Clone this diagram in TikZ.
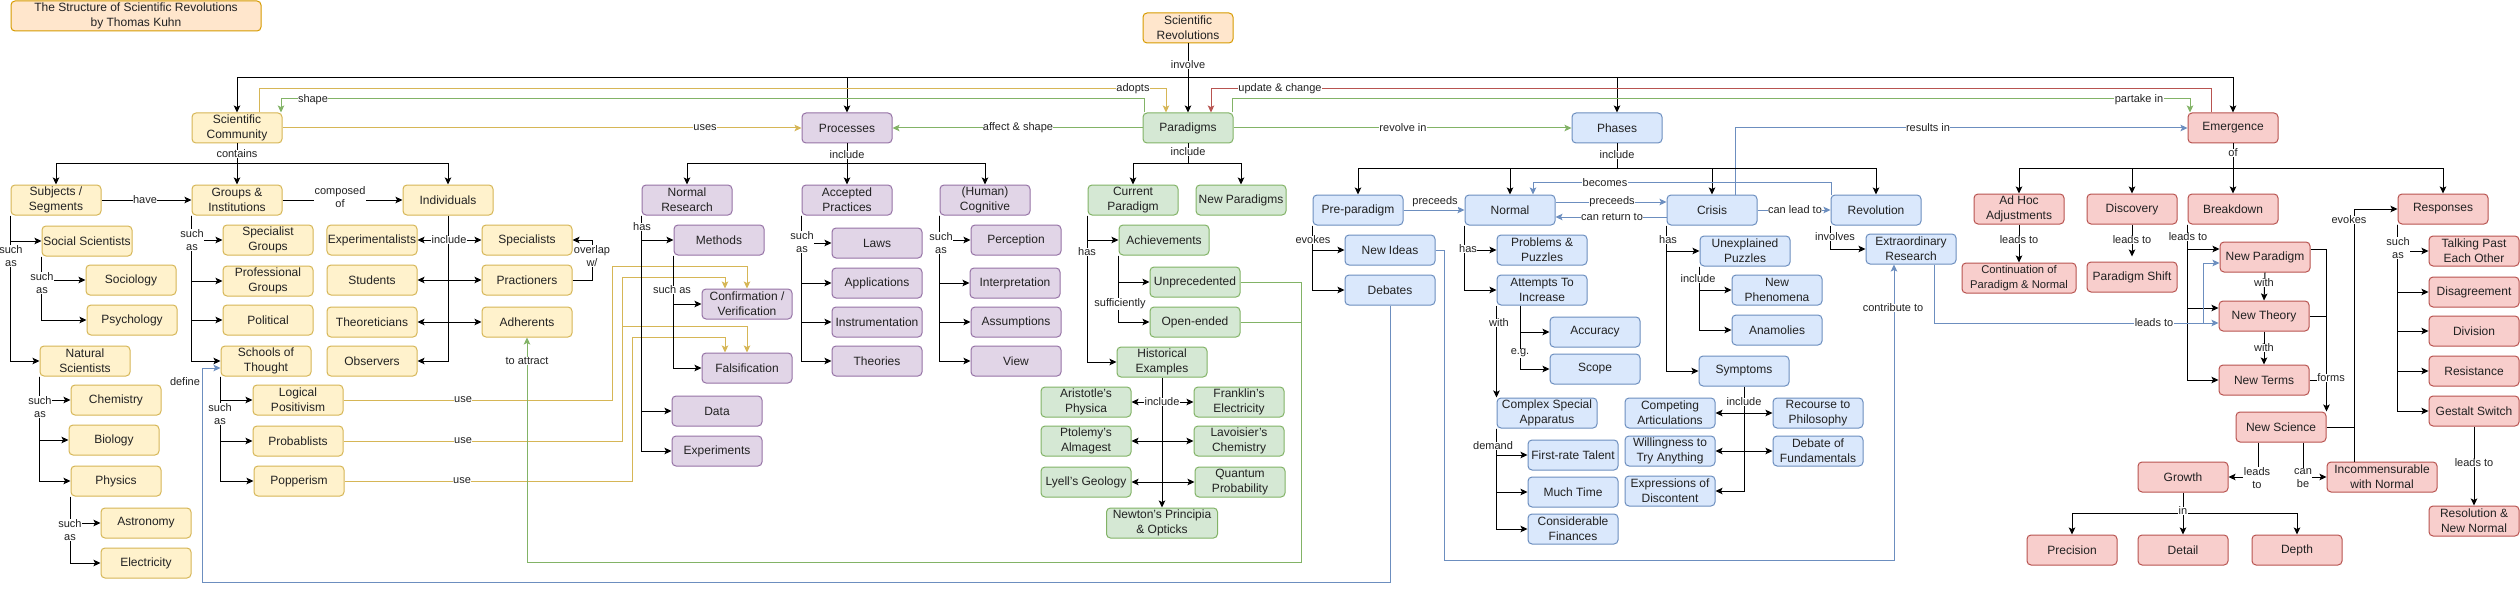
\documentclass[tikz,border=0pt]{standalone}
\usepackage{fontspec}
\setmainfont{Liberation Sans}
\usetikzlibrary{arrows.meta}
\definecolor{oF}{HTML}{FFE6CC}\definecolor{oD}{HTML}{D79B00}
\definecolor{yF}{HTML}{FFF2CC}\definecolor{yD}{HTML}{D6B656}
\definecolor{pF}{HTML}{E1D5E7}\definecolor{pD}{HTML}{9673A6}
\definecolor{gF}{HTML}{D5E8D4}\definecolor{gD}{HTML}{82B366}
\definecolor{bF}{HTML}{DAE8FC}\definecolor{bD}{HTML}{6C8EBF}
\definecolor{rF}{HTML}{F8CECC}\definecolor{rD}{HTML}{B85450}
\definecolor{txt}{HTML}{222222}
\begin{document}
\begin{tikzpicture}[x=1pt,y=-1pt,
 box/.style={draw, rounded corners=4pt, line width=1pt, minimum width=90pt, minimum height=30pt, inner sep=1pt, align=center, font=\fontsize{12}{15}\selectfont, text=txt},
 ob/.style={box, fill=oF, draw=oD},
 yb/.style={box, fill=yF, draw=yD},
 pb/.style={box, fill=pF, draw=pD},
 gb/.style={box, fill=gF, draw=gD},
 bb/.style={box, fill=bF, draw=bD},
 rb/.style={box, fill=rF, draw=rD},
 lbl/.style={fill=white, inner sep=0.4pt, align=center, font=\fontsize{11}{13.5}\selectfont, text=txt},
 ln/.style={line width=1pt},
 ed/.style={ln, -{Stealth[length=7pt,width=6.5pt,inset=1.5pt]}},
 dbl/.style={ln, {Stealth[length=7pt,width=6.5pt,inset=1.5pt]}-{Stealth[length=7pt,width=6.5pt,inset=1.5pt]}},
 yE/.style={ed, draw=yD}, gE/.style={ed, draw=gD}, bE/.style={ed, draw=bD}, rE/.style={ed, draw=rD},
 yL/.style={ln, draw=yD}, gL/.style={ln, draw=gD}, bL/.style={ln, draw=bD}
]
\useasboundingbox (0,0) rectangle (2520,591);
\fill[white] (0,0) rectangle (2520,591);

% ---------------- nodes ----------------
\node[ob, minimum width=250pt] (title) at (136,16) {The Structure of Scientific Revolutions\\by Thomas Kuhn};
\node[ob] (sr) at (1188,28) {Scientific\\Revolutions};

% yellow
\node[yb] (sc) at (237,128) {Scientific\\Community};
\node[yb] (subj) at (56,200) {Subjects /\\Segments};
\node[yb] (grp) at (237,200) {Groups \&\\Institutions};
\node[yb] (ind) at (448,200) {Individuals};
\node[yb] (soc) at (87,241) {Social Scientists};
\node[yb] (sgrp) at (268,240) {Specialist\\Groups};
\node[yb] (exp) at (372,240) {Experimentalists};
\node[yb] (spec) at (527,240) {Specialists};
\node[yb] (socio) at (131,280) {Sociology};
\node[yb] (pgrp) at (268,281) {Professional\\Groups};
\node[yb] (stud) at (372,280) {Students};
\node[yb] (prac) at (527,280) {Practioners};
\node[yb] (psy) at (132,320) {Psychology};
\node[yb] (pol) at (268,320) {Political};
\node[yb] (theo) at (372,322) {Theoreticians};
\node[yb] (adh) at (527,322) {Adherents};
\node[yb] (nat) at (85,361) {Natural\\Scientists};
\node[yb] (sot) at (266,361) {Schools of\\Thought};
\node[yb] (obs) at (372,361) {Observers};
\node[yb] (chem) at (116,400) {Chemistry};
\node[yb] (lp) at (298,400) {Logical\\Positivism};
\node[yb] (bio) at (114,440) {Biology};
\node[yb] (prob) at (298,441) {Probablists};
\node[yb] (phys) at (116,481) {Physics};
\node[yb] (pop) at (299,481) {Popperism};
\node[yb] (astr) at (146,523) {Astronomy};
\node[yb] (elec) at (146,563) {Electricity};

% purple
\node[pb] (proc) at (847,128) {Processes};
\node[pb] (nr) at (687,200) {Normal\\Research};
\node[pb] (ap) at (847,200) {Accepted\\Practices};
\node[pb] (hc) at (985,200) {(Human)\\Cognitive};
\node[pb] (meth) at (719,240) {Methods};
\node[pb] (laws) at (877,243) {Laws};
\node[pb] (perc) at (1016,240) {Perception};
\node[pb] (appl) at (877,283) {Applications};
\node[pb] (interp) at (1015,283) {Interpretation};
\node[pb] (conf) at (747,304) {Confirmation /\\Verification};
\node[pb] (instr) at (877,322) {Instrumentation};
\node[pb] (assum) at (1016,322) {Assumptions};
\node[pb] (fals) at (747,368) {Falsification};
\node[pb] (theor) at (877,361) {Theories};
\node[pb] (view) at (1016,361) {View};
\node[pb] (data) at (717,411) {Data};
\node[pb] (expt) at (717,451) {Experiments};

% green
\node[gb] (par) at (1188,128) {Paradigms};
\node[gb] (cp) at (1133,200) {Current\\Paradigm};
\node[gb] (np) at (1241,200) {New Paradigms};
\node[gb] (ach) at (1164,240) {Achievements};
\node[gb] (unp) at (1195,282) {Unprecedented};
\node[gb] (open) at (1195,322) {Open-ended};
\node[gb] (hist) at (1162,362) {Historical\\Examples};
\node[gb] (ari) at (1086,402) {Aristotle's\\Physica};
\node[gb] (frank) at (1239,402) {Franklin's\\Electricity};
\node[gb] (ptol) at (1086,441) {Ptolemy's\\Almagest};
\node[gb] (lav) at (1239,441) {Lavoisier's\\Chemistry};
\node[gb] (lyell) at (1086,482) {Lyell's Geology};
\node[gb] (quant) at (1240,482) {Quantum\\Probability};
\node[gb, minimum width=111pt] (newt) at (1162,523) {Newton's Principia\\\& Opticks};

% blue
\node[bb] (ph) at (1617,128) {Phases};
\node[bb] (pre) at (1358,210) {Pre-paradigm};
\node[bb] (nor) at (1510,210) {Normal};
\node[bb] (cri) at (1712,210) {Crisis};
\node[bb] (rev) at (1876,210) {Revolution};
\node[bb] (ni) at (1390,250) {New Ideas};
\node[bb] (pp) at (1542,250) {Problems \&\\Puzzles};
\node[bb] (up) at (1745,251) {Unexplained\\Puzzles};
\node[bb] (er) at (1911,249) {Extraordinary\\Research};
\node[bb] (deb) at (1390,290) {Debates};
\node[bb] (ati) at (1542,290) {Attempts To\\Increase};
\node[bb] (nphen) at (1777,290) {New\\Phenomena};
\node[bb] (acc) at (1595,332) {Accuracy};
\node[bb] (anam) at (1777,330) {Anamolies};
\node[bb] (scope) at (1595,369) {Scope};
\node[bb] (sym) at (1744,371) {Symptoms};
\node[bb, minimum width=100pt] (csa) at (1547,413) {Complex Special\\Apparatus};
\node[bb] (ca) at (1670,413) {Competing\\Articulations};
\node[bb] (rp) at (1818,413) {Recourse to\\Philosophy};
\node[bb] (frt) at (1573,455) {First-rate Talent};
\node[bb] (wta) at (1670,451) {Willingness to\\Try Anything};
\node[bb] (dof) at (1818,451) {Debate of\\Fundamentals};
\node[bb] (mt) at (1573,492) {Much Time};
\node[bb] (eod) at (1670,491) {Expressions of\\Discontent};
\node[bb] (cf) at (1573,529) {Considerable\\Finances};

% red
\node[rb] (em) at (2233,128) {Emergence};
\node[rb] (aha) at (2019,209) {Ad Hoc\\Adjustments};
\node[rb] (disc) at (2132,209) {Discovery};
\node[rb] (bd) at (2233,209) {Breakdown};
\node[rb] (resp) at (2443,209) {Responses};
\node[rb, minimum width=114pt, font=\fontsize{11.2}{15}\selectfont] (cont) at (2019,278) {Continuation of\\Paradigm \& Normal};
\node[rb] (ps) at (2132,277) {Paradigm Shift};
\node[rb] (npar) at (2265,257) {New Paradigm};
\node[rb] (tpeo) at (2474,251) {Talking Past\\Each Other};
\node[rb] (dis) at (2474,292) {Disagreement};
\node[rb] (nt) at (2264,316) {New Theory};
\node[rb] (div) at (2474,331) {Division};
\node[rb] (nterm) at (2264,380) {New Terms};
\node[rb] (res) at (2474,371) {Resistance};
\node[rb] (gs) at (2474,411) {Gestalt Switch};
\node[rb] (nsci) at (2281,427) {New Science};
\node[rb] (gro) at (2183,477) {Growth};
\node[rb, minimum width=110pt] (inc) at (2382,477) {Incommensurable\\with Normal};
\node[rb] (rnn) at (2474,521) {Resolution \&\\New Normal};
\node[rb] (prec) at (2072,550) {Precision};
\node[rb] (det) at (2183,550) {Detail};
\node[rb] (dep) at (2297,550) {Depth};

% ---------------- top connectors ----------------
\coordinate (busT) at (1188,78);
\draw[ed] (sr.south) -- (par.north);
\draw[ed] (busT) -| (sc.north);
\draw[ed] (busT) -| (proc.north);
\draw[ed] (busT) -| (ph.north);
\draw[ed] (busT) -| (em.north);
\draw[yE] ([xshift=22pt]sc.north) -- ++(0,-24) -| ([xshift=-22pt]par.north);
\draw[rE] ([xshift=-22pt]em.north) -- ++(0,-24) -| ([xshift=23pt]par.north);
\draw[gE] ([xshift=-44pt]par.north) -- ++(0,-14) -| ([xshift=44pt]sc.north);
\draw[gE] ([xshift=44pt]par.north) -- ++(0,-14) -| ([xshift=-43pt]em.north);
\draw[yE] (sc.east) -- (proc.west);
\draw[gE] (par.west) -- (proc.east);
\draw[gE] (par.east) -- (ph.west);
\draw[bE] ([xshift=23pt]cri.north) |- (em.west);

% include buses
\coordinate (b1) at (237,164);
\draw[ln] (sc.south) -- (b1);
\draw[ed] (b1) -| (subj.north);
\draw[ed] (b1) -- (grp.north);
\draw[ed] (b1) -| (ind.north);
\coordinate (b2) at (847,164);
\draw[ln] (proc.south) -- (b2);
\draw[ed] (b2) -| (nr.north);
\draw[ed] (b2) -- (ap.north);
\draw[ed] (b2) -| (hc.north);
\coordinate (b3) at (1188,164);
\draw[ln] (par.south) -- (b3);
\draw[ed] (b3) -| (cp.north);
\draw[ed] (b3) -| (np.north);
\coordinate (b4) at (1617,169);
\draw[ln] (ph.south) -- (b4);
\draw[ed] (b4) -| (pre.north);
\draw[ed] (b4) -| (nor.north);
\draw[ed] (b4) -| (cri.north);
\draw[ed] (b4) -| (rev.north);
\coordinate (b5) at (2233,169);
\draw[ln] (em.south) -- (b5);
\draw[ed] (b5) -| (aha.north);
\draw[ed] (b5) -| (disc.north);
\draw[ed] (b5) -- (bd.north);
\draw[ed] (b5) -| (resp.north);

% ---------------- left part ----------------
\draw[ed] (subj.east) -- (grp.west);
\draw[ed] (grp.east) -- (ind.west);
\draw[ed] (subj.south west) |- (soc.west);
\draw[ed] (subj.south west) |- (nat.west);
\draw[ed] (soc.south west) |- (socio.west);
\draw[ed] (soc.south west) |- (psy.west);
\draw[ed] (nat.south west) |- (chem.west);
\draw[ed] (nat.south west) |- (bio.west);
\draw[ed] (nat.south west) |- (phys.west);
\draw[ed] (phys.south west) |- (astr.west);
\draw[ed] (phys.south west) |- (elec.west);
\draw[ed] (grp.south west) |- (sgrp.west);
\draw[ed] (grp.south west) |- (pgrp.west);
\draw[ed] (grp.south west) |- (pol.west);
\draw[ed] (grp.south west) |- (sot.west);
\draw[ed] (sot.south west) |- (lp.west);
\draw[ed] (sot.south west) |- (prob.west);
\draw[ed] (sot.south west) |- (pop.west);
\draw[ed] (ind.south) |- (obs.east);
\draw[dbl] (exp.east) -- (spec.west);
\draw[dbl] (stud.east) -- (prac.west);
\draw[dbl] (theo.east) -- (adh.west);
\draw[ed] (prac.east) -- ++(20,0) |- (spec.east);

% use lines
\draw[yE] (lp.east) -| (612,266) -| (conf.north);
\draw[yE] (prob.east) -| (622,277) -| ([xshift=-22pt]conf.north);
\coordinate (pj) at (622,326);
\draw[yE] (pj) -| (fals.north);
\draw[yE] (pop.east) -| (632,337) -| ([xshift=-22pt]fals.north);

% processes children
\draw[ed] (nr.south west) |- (meth.west);
\draw[ed] (nr.south west) |- (data.west);
\draw[ed] (nr.south west) |- (expt.west);
\draw[ed] (meth.south west) |- (conf.west);
\draw[ed] (meth.south west) |- (fals.west);
\draw[ed] (ap.south west) |- (laws.west);
\draw[ed] (ap.south west) |- (appl.west);
\draw[ed] (ap.south west) |- (instr.west);
\draw[ed] (ap.south west) |- (theor.west);
\draw[ed] (hc.south west) |- (perc.west);
\draw[ed] (hc.south west) |- (interp.west);
\draw[ed] (hc.south west) |- (assum.west);
\draw[ed] (hc.south west) |- (view.west);

% paradigm children
\draw[ed] (cp.south west) |- (ach.west);
\draw[ed] (cp.south west) |- (hist.west);
\draw[ed] (ach.south west) |- (unp.west);
\draw[ed] (ach.south west) |- (open.west);
\draw[ed] (hist.south) -- (newt.north);
\draw[dbl] (ari.east) -- (frank.west);
\draw[dbl] (ptol.east) -- (lav.west);
\draw[dbl] (lyell.east) -- (quant.west);

% long loops
\coordinate (gj) at (1301,322);
\draw[gE] (unp.east) -| (1301,562) -| (adh.south);
\draw[gL] (open.east) -- (gj);
\draw[bE] (deb.south) |- (202,582) |- ([yshift=-7pt]sot.west);
\draw[bE] (ni.east) -| (1444,560) -| ([xshift=-17pt]er.south);

% ---------------- phases ----------------
\draw[bE] (pre.east) -- (nor.west);
\draw[bE] ([yshift=8pt]nor.east) -- ([yshift=8pt]cri.west);
\draw[bE] ([yshift=-7pt]cri.west) -- ([yshift=-7pt]nor.east);
\draw[bE] (cri.east) -- (rev.west);
\draw[bE] ([xshift=-45pt]rev.north) -- ++(0,-12) -| ([xshift=23pt]nor.north);
\draw[ed] (pre.south west) |- (ni.west);
\draw[ed] (pre.south west) |- (deb.west);
\draw[ed] (nor.south west) |- (pp.west);
\draw[ed] (nor.south west) |- (ati.west);
\draw[ed] ([xshift=-22pt]ati.south) |- (acc.west);
\draw[ed] ([xshift=-22pt]ati.south) |- (scope.west);
\draw[ed] (ati.south west) -- (ati.south west |- csa.north);
\draw[ed] (csa.south west) |- (frt.west);
\draw[ed] (csa.south west) |- (mt.west);
\draw[ed] (csa.south west) |- (cf.west);
\draw[ed] (cri.south west) |- (up.west);
\draw[ed] (cri.south west) |- (sym.west);
\draw[ed] (up.south west) |- (nphen.west);
\draw[ed] (up.south west) |- (anam.west);
\draw[ed] (sym.south) |- (eod.east);
\draw[dbl] (ca.east) -- (rp.west);
\draw[dbl] (wta.east) -- (dof.west);
\draw[ed] (rev.south west) |- (er.west);

% ---------------- emergence ----------------
\draw[ed] (aha.south) -- (cont.north);
\draw[ed] (disc.south) -- ([yshift=5pt]ps.north);
\draw[ed] (bd.south west) |- ([yshift=8pt]npar.west);
\draw[ed] (bd.south west) |- ([yshift=8pt]nt.west);
\draw[ed] (bd.south west) |- (nterm.west);
\coordinate (bj) at (2203,323);
\draw[bE] ([xshift=23pt]er.south) |- ([yshift=-7pt]nt.west);
\draw[bE] (bj) |- ([yshift=-6pt]npar.west);
\draw[ed] (npar.south) -- (nt.north);
\draw[ed] (nt.south) -- (nterm.north);
\draw[ed] ([yshift=8pt]npar.east) -| (nsci.north east);
\draw[ln] (nt.east) -- (nt.east -| nsci.north east);
\draw[ln] (nterm.east) -- (nterm.east -| nsci.north east);
\coordinate (ej) at (2354,209);
\draw[ed] (nsci.east) -| (ej) -- (resp.west);
\draw[ln] ([xshift=-28pt]inc.north) -- ([xshift=-28pt]inc.north |- nsci.east);
\draw[ed] ([xshift=-23pt]nsci.south) |- (gro.east);
\draw[ed] ([xshift=22pt]nsci.south) |- (inc.west);
\coordinate (gb) at (2183,513);
\draw[ln] (gro.south) -- (gb);
\draw[ed] (gb) -| (prec.north);
\draw[ed] (gb) -- (det.north);
\draw[ed] (gb) -| (dep.north);
\draw[ed] (resp.south west) |- (tpeo.west);
\draw[ed] (resp.south west) |- (dis.west);
\draw[ed] (resp.south west) |- (div.west);
\draw[ed] (resp.south west) |- (res.west);
\draw[ed] (resp.south west) |- (gs.west);
\draw[ed] (gs.south) -- (rnn.north);

% ---------------- labels ----------------
\node[lbl] (L1) at (1188,65) {involve};
\node[lbl] (L2) at (1133,89) {adopts};
\node[lbl] (L3) at (1280,89) {update \& change};
\node[lbl] (L4) at (313,100) {shape};
\node[lbl] (L5) at (2139,100) {partake in};
\node[lbl] (L6) at (705,128) {uses};
\node[lbl] (L7) at (1018,128) {affect \& shape};
\node[lbl] (L8) at (1403,128) {revolve in};
\node[lbl] (L9) at (1928,128) {results in};
\node[lbl] (L10) at (237,154) {contains};
\node[lbl] (L11) at (847,155) {include};
\node[lbl] (L12) at (1188,152) {include};
\node[lbl] (L13) at (1617,155) {include};
\node[lbl] (L14) at (2233,153) {of};
\node[lbl] (L15) at (145,200) {have};
\node[lbl] (L16) at (340,197) {composed\\of};
\node[lbl] (L17) at (11,256) {such\\as};
\node[lbl] (L18) at (42,283) {such\\as};
\node[lbl] (L19) at (40,407) {such\\as};
\node[lbl] (L20) at (70,530) {such\\as};
\node[lbl] (L21) at (192,240) {such\\as};
\node[lbl] (L22) at (220,414) {such\\as};
\node[lbl] (L23) at (449,240) {include};
\node[lbl] (L24) at (592,256) {overlap\\w/};
\node[lbl] (L25) at (463,400) {use};
\node[lbl] (L26) at (463,441) {use};
\node[lbl] (L27) at (462,481) {use};
\node[lbl] (L28) at (527,361) {to attract};
\node[lbl] (L29) at (185,382) {define};
\node[lbl] (L30) at (642,227) {has};
\node[lbl] (L31) at (672,290) {such as};
\node[lbl] (L32) at (802,242) {such\\as};
\node[lbl] (L33) at (941,243) {such\\as};
\node[lbl] (L34) at (1087,252) {has};
\node[lbl] (L35) at (1120,304) {sufficiently};
\node[lbl] (L36) at (1162,402) {include};
\node[lbl] (L37) at (1435,202) {preceeds};
\node[lbl] (L38) at (1612,202) {preceeds};
\node[lbl] (L39) at (1612,217) {can return to};
\node[lbl] (L40) at (1795,210) {can lead to};
\node[lbl] (L41) at (1605,183) {becomes};
\node[lbl] (L42) at (1313,240) {evokes};
\node[lbl] (L43) at (1468,249) {has};
\node[lbl] (L44) at (1520,353) {e.g.};
\node[lbl] (L45) at (1499,323) {with};
\node[lbl] (L46) at (1493,446) {demand};
\node[lbl] (L47) at (1668,240) {has};
\node[lbl] (L48) at (1698,279) {include};
\node[lbl] (L49) at (1744,402) {include};
\node[lbl] (L50) at (1835,237) {involves};
\node[lbl] (L51) at (1893,308) {contribute to};
\node[lbl] (L52) at (2019,240) {leads to};
\node[lbl] (L53) at (2132,240) {leads to};
\node[lbl] (L54) at (2188,237) {leads to};
\node[lbl] (L55) at (2154,323) {leads to};
\node[lbl] (L56) at (2264,283) {with};
\node[lbl] (L57) at (2264,348) {with};
\node[lbl] (L58) at (2331,378) {forms};
\node[lbl] (L59) at (2349,220) {evokes};
\node[lbl] (L60) at (2398,248) {such\\as};
\node[lbl] (L61) at (2474,463) {leads to};
\node[lbl] (L62) at (2257,478) {leads\\to};
\node[lbl] (L63) at (2303,478) {can\\be};
\node[lbl] (L64) at (2183,511) {in};
\end{tikzpicture}
\end{document}
